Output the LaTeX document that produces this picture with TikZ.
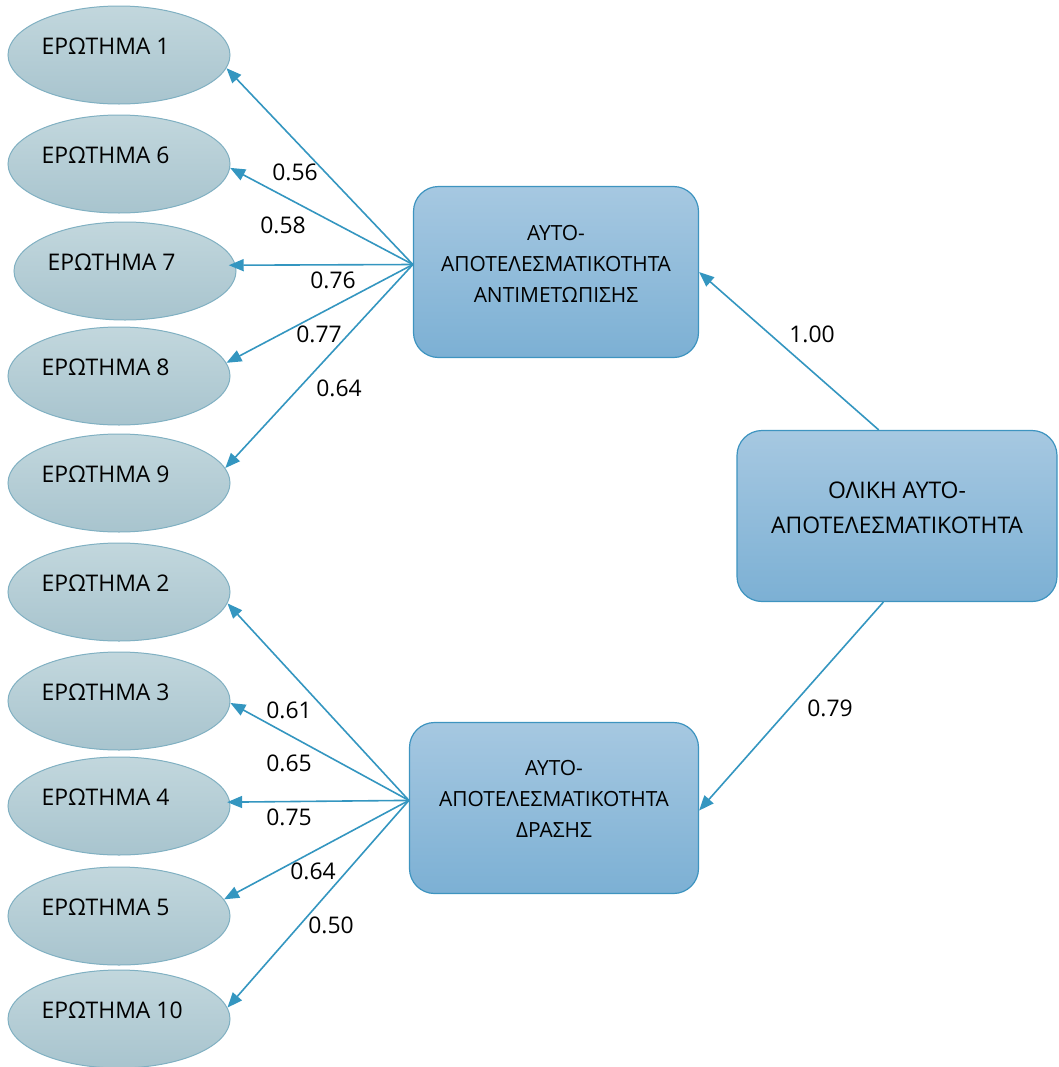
\documentclass[tikz,border=0pt]{standalone}
\usepackage{fontspec}
\setmainfont{Open Sans}
\usetikzlibrary{shapes.geometric,arrows.meta}
\definecolor{arrc}{RGB}{52,150,192}
\definecolor{elltop}{RGB}{194,215,221}
\definecolor{ellbot}{RGB}{168,196,206}
\definecolor{elldraw}{RGB}{128,176,194}
\definecolor{boxtop}{RGB}{166,200,225}
\definecolor{boxbot}{RGB}{124,176,212}
\definecolor{boxdraw}{RGB}{62,148,192}
\begin{document}
\begin{tikzpicture}[x=1bp,y=-1bp,
 ell/.style={ellipse, draw=elldraw, line width=1bp, top color=elltop, bottom color=ellbot, minimum width=222bp, minimum height=98bp, inner sep=0pt},
 elltext/.style={font=\fontsize{23}{28}\selectfont, inner sep=0pt, anchor=west},
 latent/.style={rectangle, rounded corners=25bp, draw=boxdraw, line width=1.2bp, top color=boxtop, bottom color=boxbot, minimum height=171bp, inner sep=0pt},
 boxtext/.style={align=center, font=\fontsize{21}{31}\selectfont, inner sep=0pt},
 arr/.style={draw=arrc, line width=1.6bp, -{Triangle[length=15bp,width=12bp]}},
 coef/.style={font=\fontsize{23}{28}\selectfont, inner sep=0pt}]
\useasboundingbox (0,0) rectangle (1059,1067);

% indicator ellipses
\foreach \n/\x/\y/\t in {e1/119/55/1, e6/119/164/6, e7/125/271/7, e8/119/376/8, e9/119/483/9,
                          e2/119/592/2, e3/119/701/3, e4/119/806/4, e5/119/916/5, e10/119/1019/10}{
  \node[ell] (\n) at (\x,\y) {};
  \node[elltext] (\n t) at ([xshift=34bp,yshift=8.5bp]\n.west) {ΕΡΩΤΗΜΑ \t};
}

% latent boxes
\node[latent, minimum width=285bp] (b1) at (556,272) {};
\node[boxtext] (b1t) at ([yshift=8bp]b1.center) {ΑΥΤΟ-\\ΑΠΟΤΕΛΕΣΜΑΤΙΚΟΤΗΤΑ\\ΑΝΤΙΜΕΤΩΠΙΣΗΣ};
\node[latent, minimum width=289bp] (b2) at (554,808) {};
\node[boxtext] (b2t) at ([yshift=9bp]b2.center) {ΑΥΤΟ-\\ΑΠΟΤΕΛΕΣΜΑΤΙΚΟΤΗΤΑ\\ΔΡΑΣΗΣ};
\node[latent, minimum width=320bp] (b3) at (897,516) {};
\node[boxtext, font=\fontsize{23}{35}\selectfont] (b3t) at ([yshift=8.5bp]b3.center) {ΟΛΙΚΗ ΑΥΤΟ-\\ΑΠΟΤΕΛΕΣΜΑΤΙΚΟΤΗΤΑ};

% connectors from first factor
\draw[arr] (b1.177.6) -- (e1.-7.7);
\draw[arr] (b1.177.6) -- (e6.-2);
\draw[arr, shorten >=-7bp] (b1.177.6) -- (e7.3);
\draw[arr] (b1.177.6) -- (e8.7.6);
\draw[arr] (b1.177.6) -- (e9.8);

% connectors from second factor
\draw[arr] (b2.177) -- (e2.-6);
\draw[arr] (b2.177) -- (e3.-1);
\draw[arr, shorten >=-3bp] (b2.177) -- (e4.2);
\draw[arr] (b2.177) -- (e5.9);
\draw[arr] (b2.177) -- (e10.6);

% second order
\draw[arr] (b3.102.6) -- (b1.east);
\draw[arr] (b3.261.4) -- (b2.-1);

% coefficients
\node[coef] (c1) at (295,172) {0.56};
\node[coef] (c2) at (283,225) {0.58};
\node[coef] (c3) at (333,280) {0.76};
\node[coef] (c4) at (319,334) {0.77};
\node[coef] (c5) at (339,388) {0.64};
\node[coef] (c6) at (289,710) {0.61};
\node[coef] (c7) at (289,763) {0.65};
\node[coef] (c8) at (289,817) {0.75};
\node[coef] (c9) at (313,871) {0.64};
\node[coef] (c10) at (331,925) {0.50};
\node[coef] (c11) at (812,334) {1.00};
\node[coef] (c12) at (830,708) {0.79};
\end{tikzpicture}
\end{document}
